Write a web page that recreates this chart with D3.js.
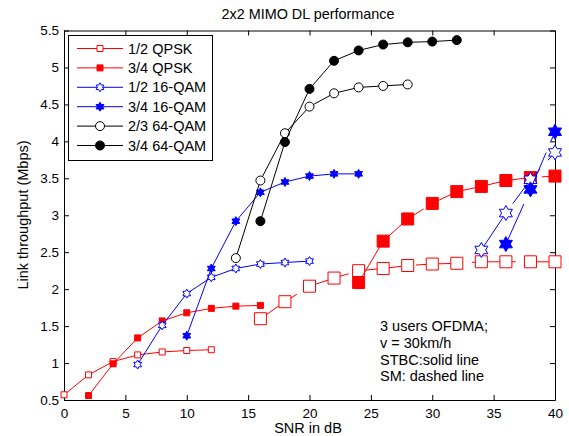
<!DOCTYPE html>
<html>
<head>
<meta charset="utf-8">
<script src="https://cdn.jsdelivr.net/npm/d3@7"></script>
<style>
  body { margin: 0; background: #fff; }
  text { font-family: "Liberation Sans", Arial, sans-serif; }
</style>
</head>
<body>
<div id="chart"></div>
<script>
// values (SNR in dB -> throughput in Mbps)
const qpsk12Snr = [0, 2, 4, 6, 8, 10, 12];
const qpsk12Stbc = [0.57, 0.84, 1.02, 1.11, 1.15, 1.17, 1.18];
const qpsk34Snr = [2, 4, 6, 8, 10, 12, 14, 16];
const qpsk34Stbc = [0.56, 0.99, 1.34, 1.57, 1.68, 1.74, 1.77, 1.78];
const qam16h12Snr = [6, 8, 10, 12, 14, 16, 18, 20];
const qam16h12Stbc = [0.98, 1.51, 1.94, 2.16, 2.28, 2.34, 2.36, 2.38];
const qam16h34Snr = [10, 12, 14, 16, 18, 20, 22, 24];
const qam16h34Stbc = [1.37, 2.28, 2.92, 3.31, 3.45, 3.53, 3.56, 3.56];
const qam64h23Snr = [14, 16, 18, 20, 22, 24, 26, 28];
const qam64h23Stbc = [2.42, 3.47, 4.11, 4.47, 4.65, 4.73, 4.75, 4.77];
const qam64h34Snr = [16, 18, 20, 22, 24, 26, 28, 30, 32];
const qam64h34Stbc = [2.92, 3.99, 4.71, 5.09, 5.23, 5.31, 5.34, 5.35, 5.37];

const qpsk12SmSnr = [16, 18, 20, 22, 24, 26, 28, 30, 32, 34, 36, 38, 40];
const qpsk12Sm = [1.60, 1.83, 2.04, 2.15, 2.25, 2.28, 2.32, 2.34, 2.35, 2.37, 2.37, 2.37, 2.37];
const qpsk34SmSnr = [24, 26, 28, 30, 32, 34, 36, 38, 40];
const qpsk34Sm = [2.09, 2.65, 2.95, 3.16, 3.32, 3.39, 3.47, 3.51, 3.53];
const qam16h12SmSnr = [34, 36, 38, 40];
const qam16h12Sm = [2.53, 3.03, 3.48, 3.85];
const qam16h34SmSnr = [36, 38, 40];
const qam16h34Sm = [2.61, 3.35, 4.13];

const legendLabels = ["1/2 QPSK", "3/4 QPSK", "1/2 16-QAM", "3/4 16-QAM", "2/3 64-QAM", "3/4 64-QAM"];
const xTicks = [0, 5, 10, 15, 20, 25, 30, 35, 40];
const yTicks = [0.5, 1, 1.5, 2, 2.5, 3, 3.5, 4, 4.5, 5, 5.5];
const noteLines = ["3 users OFDMA;", "v = 30km/h", "STBC:solid line", "SM: dashed line"];

const W = 569, H = 436;
const margin = { top: 30.5, right: 14, bottom: 36, left: 64 };

const svg = d3.select("#chart").append("svg")
    .attr("width", W)
    .attr("height", H);
svg.append("rect").attr("width", W).attr("height", H).attr("fill", "#fff");

const x = d3.scaleLinear().domain([0, 40]).range([margin.left, W - margin.right]);
const y = d3.scaleLinear().domain([0.5, 5.5]).range([H - margin.bottom, margin.top]);

// hexagram marker like matlab 'h'
function hexagram(r) {
    const pts = [];
    for (let i = 0; i < 12; i++) {
        const a = -Math.PI / 2 + i * Math.PI / 6;
        const rr = i % 2 === 0 ? r : r / Math.sqrt(3);
        pts.push([rr * Math.cos(a), rr * Math.sin(a)]);
    }
    return "M" + pts.map(p => p[0].toFixed(2) + "," + p[1].toFixed(2)).join("L") + "Z";
}
function square(s) {
    const h = s / 2;
    return `M${-h},${-h}H${h}V${h}H${-h}Z`;
}
function circle(r) {
    return `M${r},0A${r},${r} 0 1,1 ${-r},0A${r},${r} 0 1,1 ${r},0Z`;
}

const series = [
    { xs: qpsk12Snr, ys: qpsk12Stbc, color: "#ff0000", marker: square(6), fill: "#fff", dash: null },
    { xs: qpsk34Snr, ys: qpsk34Stbc, color: "#ff0000", marker: square(6), fill: "#ff0000", dash: null },
    { xs: qam16h12Snr, ys: qam16h12Stbc, color: "#0000ff", marker: hexagram(4.5), fill: "#fff", dash: null },
    { xs: qam16h34Snr, ys: qam16h34Stbc, color: "#0000ff", marker: hexagram(4.5), fill: "#0000ff", dash: null },
    { xs: qam64h23Snr, ys: qam64h23Stbc, color: "#000", marker: circle(4.5), fill: "#fff", dash: null },
    { xs: qam64h34Snr, ys: qam64h34Stbc, color: "#000", marker: circle(4.5), fill: "#000", dash: null },
    { xs: qpsk12SmSnr, ys: qpsk12Sm, color: "#ff0000", marker: square(12), fill: "#fff", dash: "44,12" },
    { xs: qpsk34SmSnr, ys: qpsk34Sm, color: "#ff0000", marker: square(12), fill: "#ff0000", dash: "44,12" },
    { xs: qam16h12SmSnr, ys: qam16h12Sm, color: "#0000ff", marker: hexagram(7.5), fill: "#fff", dash: "44,12" },
    { xs: qam16h34SmSnr, ys: qam16h34Sm, color: "#0000ff", marker: hexagram(7.5), fill: "#0000ff", dash: "44,12" }
];

const line = d3.line().x(d => x(d[0])).y(d => y(d[1]));

// axes: labels on bottom/left, inward ticks on all four sides
svg.append("g")
    .attr("transform", `translate(0,${y(0.5)})`)
    .call(d3.axisBottom(x).tickValues(xTicks).tickSizeInner(-5).tickSizeOuter(0).tickPadding(8));
svg.append("g")
    .attr("transform", `translate(${x(0)},0)`)
    .call(d3.axisLeft(y).tickValues(yTicks).tickFormat(d3.format("")).tickSizeInner(-5).tickSizeOuter(0).tickPadding(5));
svg.append("g")
    .attr("transform", `translate(0,${y(5.5)})`)
    .call(d3.axisTop(x).tickValues(xTicks).tickFormat("").tickSizeInner(-5).tickSizeOuter(0));
svg.append("g")
    .attr("transform", `translate(${x(40)},0)`)
    .call(d3.axisRight(y).tickValues(yTicks).tickFormat("").tickSizeInner(-5).tickSizeOuter(0));
svg.selectAll(".domain, .tick line").attr("stroke", "#000");
svg.selectAll(".tick text").attr("font-size", 13.5).attr("fill", "#000")
    .attr("font-family", "Liberation Sans, Arial, sans-serif");

// series
series.forEach(s => {
    const pts = s.xs.map((v, i) => [v, s.ys[i]]);
    svg.append("path")
        .attr("d", line(pts))
        .attr("fill", "none")
        .attr("stroke", s.color)
        .attr("stroke-width", 1)
        .attr("stroke-dasharray", s.dash);
    svg.append("g").selectAll("path")
        .data(pts)
        .join("path")
        .attr("transform", d => `translate(${x(d[0])},${y(d[1])})`)
        .attr("d", s.marker)
        .attr("fill", s.fill)
        .attr("stroke", s.color)
        .attr("stroke-width", 1);
});

// title and axis labels
svg.append("text")
    .attr("x", 308).attr("y", 19)
    .attr("text-anchor", "middle")
    .attr("font-size", 14.4)
    .text("2x2 MIMO DL performance");
svg.append("text")
    .attr("x", 308).attr("y", 433)
    .attr("text-anchor", "middle")
    .attr("font-size", 14.5)
    .text("SNR in dB");
svg.append("text")
    .attr("transform", "translate(28,215) rotate(-90)")
    .attr("text-anchor", "middle")
    .attr("font-size", 14.5)
    .text("Link throughput (Mbps)");

// notes
svg.append("g").selectAll("text")
    .data(noteLines)
    .join("text")
    .attr("x", 380)
    .attr("y", (d, i) => 331 + i * 16.8)
    .attr("font-size", 14.5)
    .text(d => d);

// legend
const lg = svg.append("g");
lg.append("rect")
    .attr("x", 68.5).attr("y", 35.5)
    .attr("width", 144).attr("height", 125)
    .attr("fill", "#fff").attr("stroke", "#000");
legendLabels.forEach((lab, i) => {
    const s = series[i];
    const ly = 48.5 + i * 19.4;
    lg.append("line")
        .attr("x1", 77).attr("x2", 123)
        .attr("y1", ly).attr("y2", ly)
        .attr("stroke", s.color);
    lg.append("path")
        .attr("transform", `translate(100,${ly})`)
        .attr("d", s.marker)
        .attr("fill", s.fill)
        .attr("stroke", s.color);
    lg.append("text")
        .attr("x", 128).attr("y", ly + 5)
        .attr("font-size", 14.5)
        .text(lab);
});
</script>
</body>
</html>
